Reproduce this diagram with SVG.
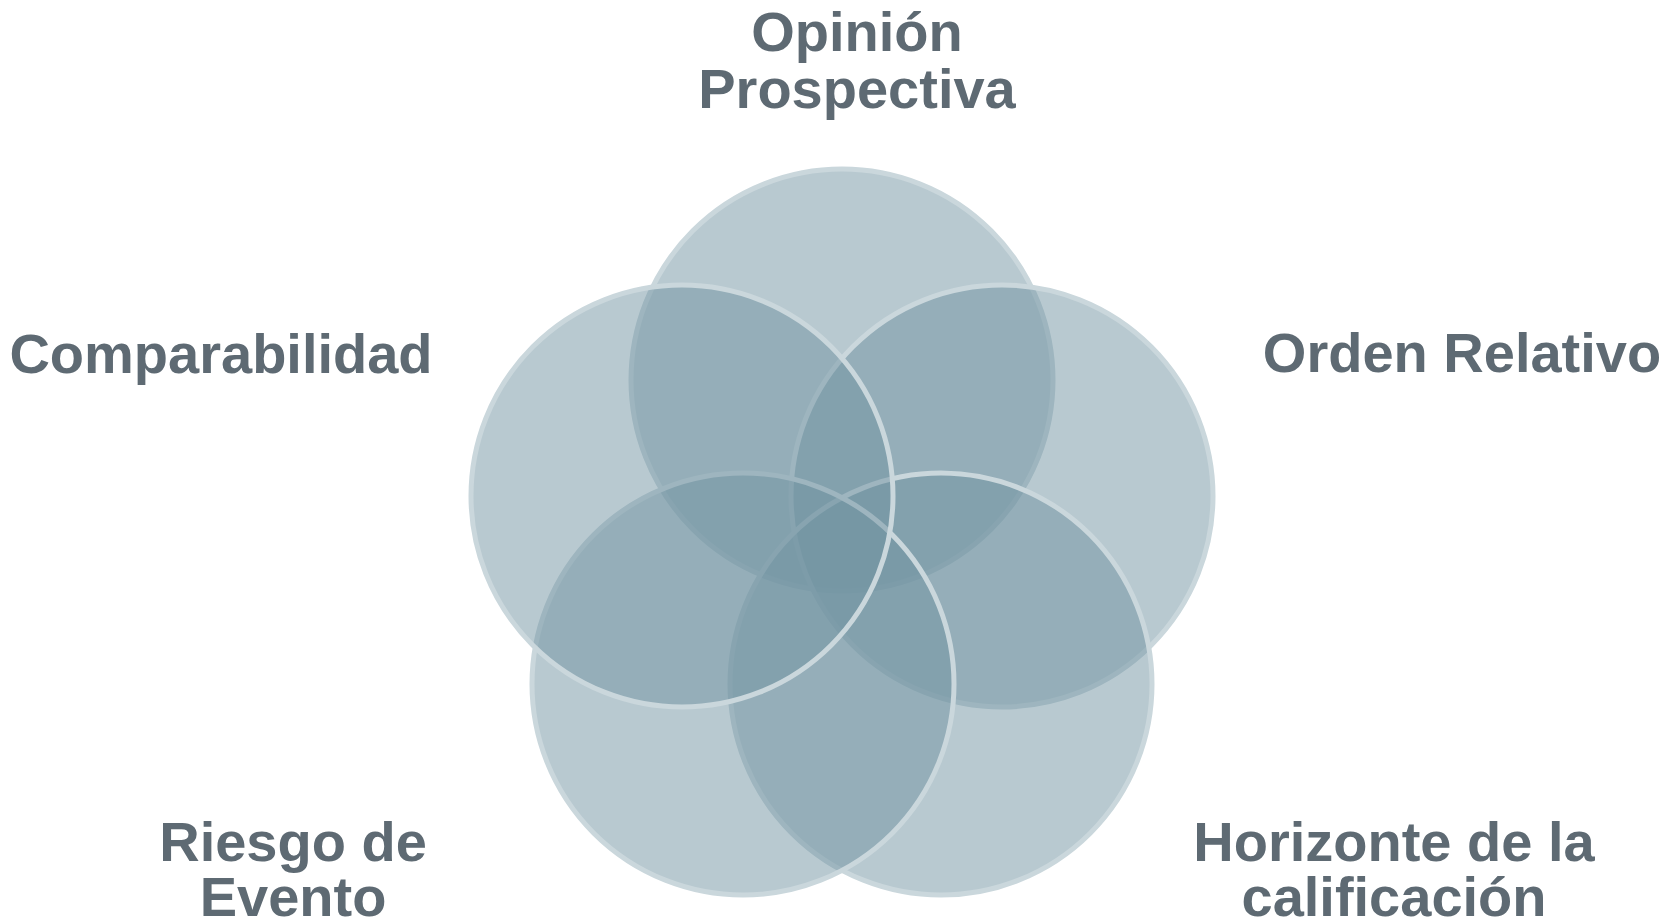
<svg xmlns="http://www.w3.org/2000/svg" width="1679" height="924" viewBox="0 0 1679 924">
<style>
.c{fill:#7193a2;fill-opacity:0.5;stroke:#cad7dc;stroke-width:5}
.t{font-family:"Liberation Sans",Arial,sans-serif;font-weight:bold;font-size:56px;fill:#5e6a73}
</style>
<rect width="1679" height="924" fill="#ffffff"/>
<g id="connectors"/>
<g id="node-opinion"><circle class="c" cx="842" cy="380" r="211"/></g>
<g id="node-orden"><circle class="c" cx="1002" cy="496" r="211"/></g>
<g id="node-horizonte"><circle class="c" cx="941" cy="684" r="211"/></g>
<g id="node-riesgo"><circle class="c" cx="743" cy="684" r="211"/></g>
<g id="node-comparabilidad"><circle class="c" cx="682" cy="496" r="211"/></g>
<g id="label-opinion"><text class="t" x="857" y="51" text-anchor="middle">Opinión</text><text class="t" x="857" y="108" text-anchor="middle">Prospectiva</text></g>
<g id="label-orden"><text class="t" x="1462" y="372" text-anchor="middle">Orden Relativo</text></g>
<g id="label-comparabilidad"><text class="t" x="221" y="373" text-anchor="middle">Comparabilidad</text></g>
<g id="label-riesgo"><text class="t" x="293" y="861" text-anchor="middle">Riesgo de</text><text class="t" x="293" y="916" text-anchor="middle">Evento</text></g>
<g id="label-horizonte"><text class="t" x="1394" y="861" text-anchor="middle">Horizonte de la</text><text class="t" x="1394" y="916" text-anchor="middle">calificación</text></g>
</svg>
